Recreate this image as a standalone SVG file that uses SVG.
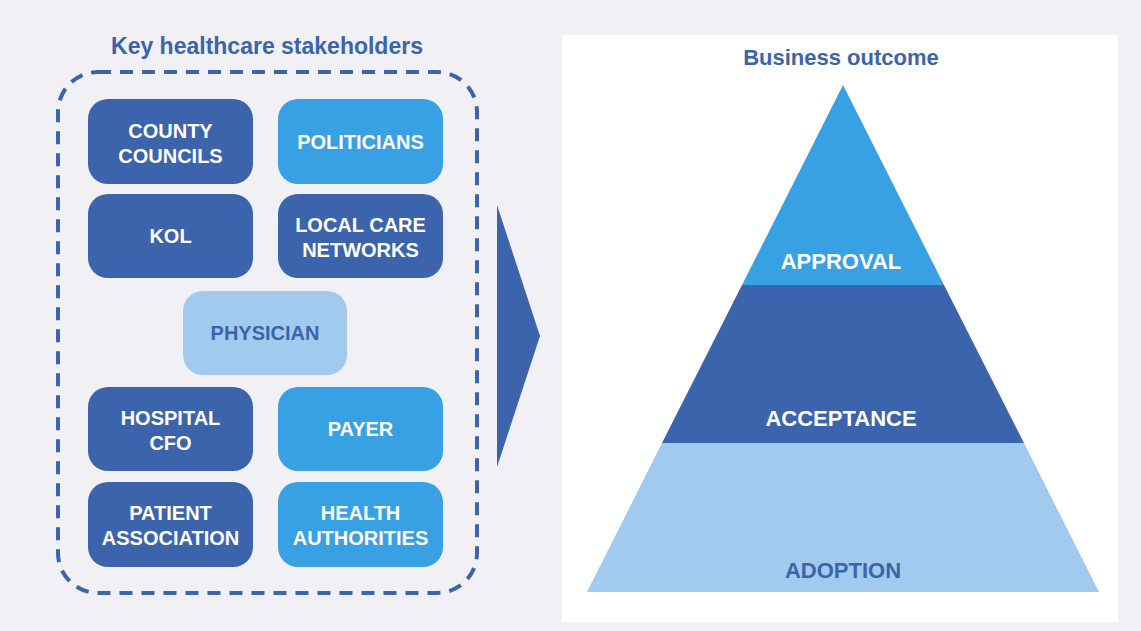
<svg xmlns="http://www.w3.org/2000/svg" width="1141" height="631" viewBox="0 0 1141 631">
<style>
.bg{fill:#F0F0F5}
.dark{fill:#3B64AC}
.mid{fill:#37A1E4}
.light{fill:#A2CAEE}
.lbl{font-family:"Liberation Sans",Arial,sans-serif;font-weight:bold;font-size:20px;fill:#FFFFFF;text-anchor:middle}
.lbl.blue{fill:#3B64AC}
.plbl{font-family:"Liberation Sans",Arial,sans-serif;font-weight:bold;font-size:22px;fill:#FFFFFF;text-anchor:middle}
.plbl.blue{fill:#3B64AC}
.title{font-family:"Liberation Sans",Arial,sans-serif;font-weight:bold;fill:#3B64AC;text-anchor:middle}
</style>
<rect class="bg" x="0" y="0" width="1141" height="631"/>
<rect x="562" y="35" width="556" height="587" fill="#FFFFFF"/>

<text class="title" x="267" y="54" font-size="23">Key healthcare stakeholders</text>
<rect id="stakeholders-frame" x="58" y="72" width="419" height="521" rx="40" fill="none" stroke="#3B64AC" stroke-width="4" stroke-dasharray="13 9"/>

<g id="county-councils">
<rect class="dark" x="88" y="99" width="165" height="85" rx="20"/>
<text class="lbl" x="170.5" y="138">COUNTY</text>
<text class="lbl" x="170.5" y="163">COUNCILS</text>
</g>
<g id="politicians">
<rect class="mid" x="278" y="99" width="165" height="85" rx="20"/>
<text class="lbl" x="360.5" y="149">POLITICIANS</text>
</g>
<g id="kol">
<rect class="dark" x="88" y="194" width="165" height="84" rx="20"/>
<text class="lbl" x="170.5" y="243">KOL</text>
</g>
<g id="local-care-networks">
<rect class="dark" x="278" y="194" width="165" height="84" rx="20"/>
<text class="lbl" x="360.5" y="232">LOCAL CARE</text>
<text class="lbl" x="360.5" y="257">NETWORKS</text>
</g>
<g id="physician">
<rect class="light" x="183" y="291" width="164" height="84" rx="20"/>
<text class="lbl blue" x="265" y="340">PHYSICIAN</text>
</g>
<g id="hospital-cfo">
<rect class="dark" x="88" y="387" width="165" height="84" rx="20"/>
<text class="lbl" x="170.5" y="425">HOSPITAL</text>
<text class="lbl" x="170.5" y="450">CFO</text>
</g>
<g id="payer">
<rect class="mid" x="278" y="387" width="165" height="84" rx="20"/>
<text class="lbl" x="360.5" y="436">PAYER</text>
</g>
<g id="patient-association">
<rect class="dark" x="88" y="482" width="165" height="85" rx="20"/>
<text class="lbl" x="170.5" y="520">PATIENT</text>
<text class="lbl" x="170.5" y="545">ASSOCIATION</text>
</g>
<g id="health-authorities">
<rect class="mid" x="278" y="482" width="165" height="85" rx="20"/>
<text class="lbl" x="360.5" y="520">HEALTH</text>
<text class="lbl" x="360.5" y="545">AUTHORITIES</text>
</g>

<g id="connectors">
<polygon class="dark" points="497,205 540,336 497,467"/>
</g>

<text class="title" x="841" y="65" font-size="22">Business outcome</text>

<g id="adoption">
<polygon class="light" points="662,443 1024,443 1099,592 587,592"/>
<text class="plbl blue" x="843" y="578">ADOPTION</text>
</g>
<g id="acceptance">
<polygon class="dark" points="742,285 944,285 1024,443 662,443"/>
<text class="plbl" x="841" y="426">ACCEPTANCE</text>
</g>
<g id="approval">
<polygon class="mid" points="843,85 944,285 742,285"/>
<text class="plbl" x="841" y="269">APPROVAL</text>
</g>
</svg>
